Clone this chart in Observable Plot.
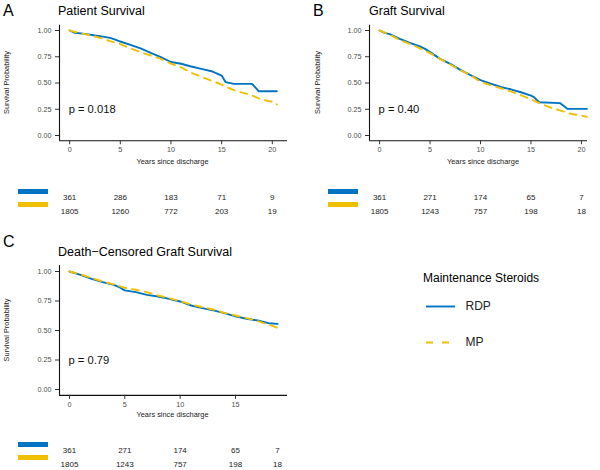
<!DOCTYPE html>
<html><head><meta charset="utf-8">
<script src="https://cdn.jsdelivr.net/npm/d3@7"></script>
<script src="https://cdn.jsdelivr.net/npm/@observablehq/plot@0.6"></script>
<style>
body{margin:0;background:#fff;}
#root{position:relative;width:600px;height:470px;overflow:hidden;font-family:"Liberation Sans",Arial,sans-serif;background:#fff;}
#root > div{position:absolute;}
#root svg{overflow:visible;display:block;}
</style></head><body><div id="root"></div>
<script>
// ---------- data ----------
const groups = ["RDP", "MP"];
const legendTitle = "Maintenance Steroids";
const xTicks = [0, 5, 10, 15, 20];
const yTicks = [0, 0.25, 0.5, 0.75, 1];

// Panel A – Patient Survival
const aTimeRDP = [0,0.5,1.5,2.5,3,4,4.5,5,6,7,8,9,10,11,12,13,14,15,15.4,16.2,18,18.3,18.65,20.45];
const aSurvRDP = [1,0.978,0.968,0.952,0.946,0.93,0.914,0.895,0.863,0.83,0.787,0.746,0.7,0.683,0.657,0.635,0.612,0.571,0.508,0.492,0.492,0.46,0.422,0.422];
const aTimeMP = [0,1,2,3,4,5,6,7,8,9,10,11,12,13,14,15,15.5,16.5,17.8,19,20.3,20.45];
const aSurvMP = [1,0.975,0.956,0.93,0.898,0.87,0.829,0.794,0.762,0.73,0.685,0.65,0.597,0.56,0.522,0.485,0.46,0.422,0.39,0.34,0.317,0.295];
const aRiskRDP = [361, 286, 183, 71, 9];
const aRiskMP = [1805, 1260, 772, 203, 19];
const aRiskTimes = [0, 5, 10, 15, 20];
const aP = "p = 0.018";

// Panel B – Graft Survival
const bTimeRDP = [0,0.5,1,2,3,4,4.5,5,6,7,8,9,10,11,12,13,14,15,15.3,15.8,17.9,18.6,20.55];
const bSurvRDP = [1,0.978,0.965,0.92,0.883,0.848,0.825,0.794,0.73,0.683,0.625,0.575,0.528,0.495,0.462,0.44,0.412,0.38,0.365,0.317,0.308,0.254,0.254];
const bTimeMP = [0,1,2,3,4,5,6,7,8,9,10,11,12,13,14,15,16,17,18,19,20,20.55];
const bSurvMP = [1,0.96,0.91,0.873,0.83,0.784,0.73,0.676,0.622,0.575,0.51,0.48,0.45,0.42,0.385,0.345,0.3,0.265,0.235,0.205,0.19,0.178];
const bRiskRDP = [361, 271, 174, 65, 7];
const bRiskMP = [1805, 1243, 757, 198, 18];
const bRiskTimes = [0, 5, 10, 15, 20];
const bP = "p = 0.40";

// Panel C – Death-Censored Graft Survival
const cTimeRDP = [0,1,2,3,4,4.5,5,6,7,8,9,10,11,12,13,14,15,16,17,18,18.8];
const cSurvRDP = [1,0.972,0.938,0.91,0.887,0.867,0.84,0.825,0.802,0.788,0.768,0.746,0.712,0.69,0.67,0.647,0.62,0.6,0.585,0.562,0.556];
const cTimeMP = [0,1,2,3,4,5,6,7,8,9,10,11,12,13,14,15,16,17,18,18.8];
const cSurvMP = [1,0.975,0.944,0.915,0.89,0.862,0.845,0.825,0.797,0.774,0.749,0.72,0.698,0.678,0.65,0.627,0.605,0.58,0.55,0.523];
const cRiskRDP = [361, 271, 174, 65, 7];
const cRiskMP = [1805, 1243, 757, 198, 18];
const cRiskTimes = [0, 5, 10, 15, 18.8];
const cP = "p = 0.79";

// ---------- styles ----------
const groupColors = ["#0073C2", "#EFC000"];
const groupDash = [null, "7,6"];
const FONT = '"Liberation Sans", Arial, sans-serif';
const root = document.getElementById("root");

function place(node, left, top) {
  const d = document.createElement("div");
  d.style.left = left + "px"; d.style.top = top + "px";
  d.appendChild(node); root.appendChild(d);
}

const panels = [
  {left: 0, top: 0, w: 300, h: 170, fl: 59, fr: 287, ft: 24.75, fb: 140.25, xDomain: [-1, 21.5],
   series: [[aTimeRDP, aSurvRDP], [aTimeMP, aSurvMP]], p: aP,
   risk: {times: aRiskTimes, n: [aRiskRDP, aRiskMP], top: 180, h: 40, rows: [17, 31], stripLeft: 18, strips: [10.5, 24]}},
  {left: 300, top: 0, w: 300, h: 170, fl: 369, fr: 587, ft: 24.75, fb: 140.25, xDomain: [-1, 20.6],
   series: [[bTimeRDP, bSurvRDP], [bTimeMP, bSurvMP]], p: bP,
   risk: {times: bRiskTimes, n: [bRiskRDP, bRiskMP], top: 180, h: 40, rows: [17, 31], stripLeft: 328, strips: [10.5, 24]}},
  {left: 0, top: 235, w: 300, h: 185, fl: 59, fr: 287, ft: 265.1, fb: 394.9, xDomain: [-0.9, 19.7],
   series: [[cTimeRDP, cSurvRDP], [cTimeMP, cSurvMP]], p: cP,
   risk: {times: cRiskTimes, n: [cRiskRDP, cRiskMP], top: 430, h: 40, rows: [20, 34], stripLeft: 18, strips: [14, 27.5]}}
];

const yDomain = [-0.05, 1.05];

panels.forEach(P => {
  const marks = [
    Plot.ruleX([P.xDomain[0]], {y1: yDomain[0], y2: yDomain[1], stroke: "#111", strokeWidth: 1.1}),
    Plot.ruleY([yDomain[0]], {x1: P.xDomain[0], x2: P.xDomain[1], stroke: "#111", strokeWidth: 1.1}),
    Plot.axisX(xTicks.filter(t => t <= P.xDomain[1]), {tickSize: 4, tickPadding: 2, label: null, stroke: "#333", fill: "#4d4d4d", fontSize: 7.2, tickFormat: d => String(d)}),
    Plot.axisY(yTicks, {tickSize: 4, tickPadding: 4, label: null, stroke: "#333", fill: "#4d4d4d", fontSize: 7.2, tickFormat: d3.format(".2f")})
  ];
  P.series.forEach(([ts, ss], i) => {
    const rows = ts.map((t, j) => ({t, s: ss[j]}));
    marks.push(Plot.line(rows, {x: "t", y: "s", stroke: groupColors[i], strokeWidth: 1.9,
      strokeDasharray: groupDash[i] || undefined, strokeLinejoin: "round"}));
  });
  marks.push(Plot.text([{t: 0, s: 0.25, label: P.p}], {x: "t", y: "s", text: "label", textAnchor: "start", fontSize: 11.2, fill: "#111", dx: -1}));

  const chart = Plot.plot({
    width: P.w, height: P.h,
    marginLeft: P.fl - P.left, marginRight: P.left + P.w - P.fr,
    marginTop: P.ft - P.top, marginBottom: P.top + P.h - P.fb,
    x: {domain: P.xDomain, axis: null},
    y: {domain: yDomain, axis: null},
    style: {background: "transparent", fontFamily: FONT, overflow: "visible"},
    marks
  });
  place(chart, P.left, P.top);

  // risk table
  const R = P.risk;
  const riskRows = [];
  R.n.forEach((arr, i) => arr.forEach((n, j) => riskRows.push({group: groups[i], t: R.times[j], n})));
  const risk = Plot.plot({
    width: P.w, height: R.h,
    marginLeft: P.fl - P.left, marginRight: P.left + P.w - P.fr, marginTop: 0, marginBottom: 0,
    x: {domain: P.xDomain, axis: null},
    y: {type: "point", domain: groups, range: R.rows, padding: 0, axis: null},
    style: {background: "transparent", fontFamily: FONT, overflow: "visible"},
    marks: [Plot.text(riskRows, {x: "t", y: "group", text: d => String(d.n), fontSize: 8, fill: "#222"})]
  });
  place(risk, P.left, R.top);

  const strips = Plot.plot({
    width: 30, height: R.h, margin: 0,
    y: {type: "point", domain: groups, range: R.strips, padding: 0, axis: null},
    color: {domain: groups, range: groupColors},
    style: {background: "transparent", overflow: "visible"},
    marks: [Plot.ruleY(groups, {y: d => d, stroke: d => d, strokeWidth: 5})]
  });
  place(strips, R.stripLeft, R.top);
});

// legend
const legend = Plot.plot({
  width: 80, height: 70, marginLeft: 0, marginRight: 51, marginTop: 0, marginBottom: 0,
  y: {type: "point", domain: groups, range: [16, 52], padding: 0, axis: null},
  style: {background: "transparent", fontFamily: FONT, overflow: "visible"},
  marks: [
    ...groups.map((g, i) => Plot.ruleY([g], {y: d => d, stroke: groupColors[i], strokeWidth: 1.9, strokeDasharray: groupDash[i] ? "7,9" : undefined})),
    Plot.text(groups, {y: d => d, text: d => d, frameAnchor: "right", dx: 10, textAnchor: "start", fontSize: 12, fill: "#222"})
  ]
});
place(legend, 426, 290);

// overlay texts
const labels = [
  {text: "A", x: 3, y: 15.5, size: 16},
  {text: "Patient Survival", x: 58, y: 15, size: 12.5},
  {text: "B", x: 313, y: 15.5, size: 16},
  {text: "Graft Survival", x: 369, y: 15, size: 12.5},
  {text: "C", x: 3, y: 247, size: 16},
  {text: "Death\u2212Censored Graft Survival", x: 58, y: 256, size: 12.5},
  {text: legendTitle, x: 423, y: 281.5, size: 12},
  {text: "Years since discharge", x: 172.5, y: 163.5, size: 7.4, anchor: "middle"},
  {text: "Years since discharge", x: 483, y: 163.5, size: 7.4, anchor: "middle"},
  {text: "Years since discharge", x: 172.5, y: 417, size: 7.4, anchor: "middle"},
  {text: "Survival Probability", x: 9, y: 82.5, size: 7.4, anchor: "middle", rotate: true},
  {text: "Survival Probability", x: 319.5, y: 82.5, size: 7.4, anchor: "middle", rotate: true},
  {text: "Survival Probability", x: 9, y: 330, size: 7.4, anchor: "middle", rotate: true}
];
const ov = d3.create("svg").attr("width", 600).attr("height", 470)
  .style("font-family", FONT).style("pointer-events", "none");
labels.forEach(l => {
  ov.append("text")
    .attr("transform", `translate(${l.x},${l.y})` + (l.rotate ? " rotate(-90)" : ""))
    .attr("text-anchor", l.anchor || "start")
    .attr("font-size", l.size)
    .attr("fill", l.size < 8 ? "#1a1a1a" : "#000")
    .text(l.text);
});
place(ov.node(), 0, 0);
</script>
</body></html>
